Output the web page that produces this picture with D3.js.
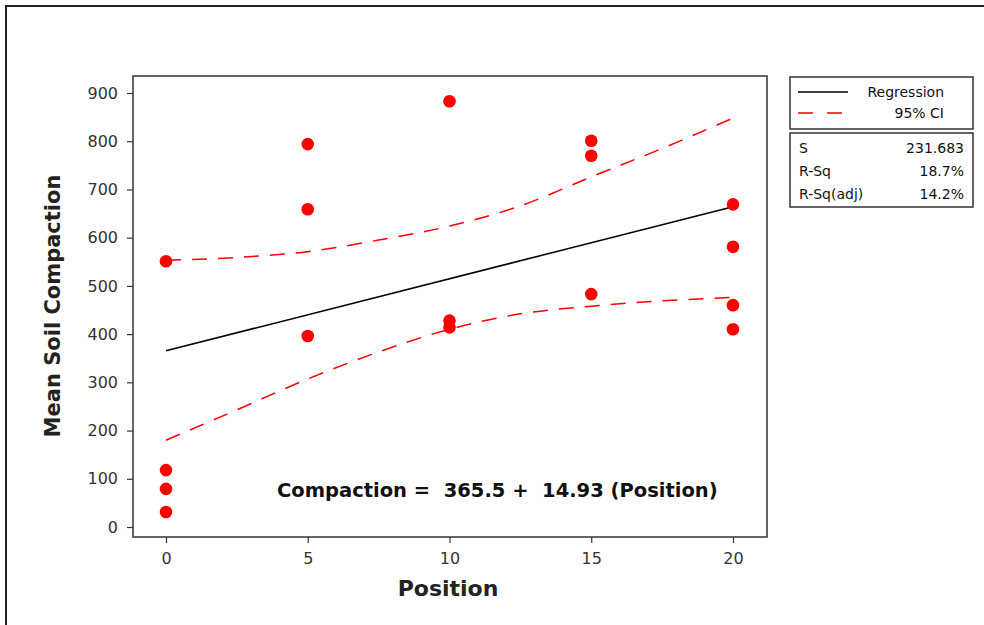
<!DOCTYPE html>
<html>
<head>
<meta charset="utf-8">
<script src="https://d3js.org/d3.v7.min.js"></script>
<style>
  body { margin: 0; background: #fff; }
  text { font-family: "DejaVu Sans", Verdana, sans-serif; }
  .tick text { font-size: 16px; fill: #333; }
</style>
</head>
<body>
<svg id="chart" width="984" height="625"></svg>
<script>
// observed points (position, mean soil compaction)
var posX  = [0, 0, 0, 0, 5, 5, 5, 10, 10, 10, 15, 15, 15, 20, 20, 20, 20];
var compY = [551, 118, 79, 31, 794, 659, 396, 883, 428, 414, 801, 770, 483, 669, 581, 460, 410];

// fitted line: Compaction = 365.5 + 14.93 (Position)
var fitX = [0, 20];
var fitY = [365.5, 664.1];

// 95% CI bands
var ciX     = [0, 2.5, 5, 7.5, 10, 12.5, 15, 17.5, 20];
var ciUpper = [553, 559, 571, 595, 624, 666, 726, 785, 848];
var ciLower = [180, 243, 307, 363, 410, 442, 458, 469, 476];

var xTicks = [0, 5, 10, 15, 20];
var yTicks = [0, 100, 200, 300, 400, 500, 600, 700, 800, 900];

var statNames  = ["S", "R-Sq", "R-Sq(adj)"];
var statValues = ["231.683", "18.7%", "14.2%"];

var svg = d3.select("#chart");

// outer frame
svg.append("rect").attr("x", 6).attr("y", 6).attr("width", 1000).attr("height", 640)
  .attr("fill", "#fff").attr("stroke", "#222").attr("stroke-width", 2);

var plot = {left: 133, top: 76, right: 767, bottom: 537};

var x = d3.scaleLinear().domain([0, 20]).range([166, 733]);
var y = d3.scaleLinear().domain([0, 900]).range([527, 93]);

// plot box
svg.append("rect")
  .attr("x", plot.left).attr("y", plot.top)
  .attr("width", plot.right - plot.left).attr("height", plot.bottom - plot.top)
  .attr("fill", "#fff").attr("stroke", "#333").attr("stroke-width", 1.5);

// axes
var yAxis = svg.append("g").attr("transform", "translate(" + plot.left + ",0)")
  .call(d3.axisLeft(y).tickValues(yTicks).tickSize(6).tickPadding(9));
var xAxis = svg.append("g").attr("transform", "translate(0," + plot.bottom + ")")
  .call(d3.axisBottom(x).tickValues(xTicks).tickSize(6).tickPadding(10));
[yAxis, xAxis].forEach(function(a) {
  a.select(".domain").remove();
  a.selectAll(".tick line").attr("stroke", "#333").attr("stroke-width", 1.2);
  a.selectAll(".tick text").attr("font-family", null).attr("font-size", null);
});

// axis titles
svg.append("text")
  .attr("transform", "translate(60,306) rotate(-90)")
  .attr("text-anchor", "middle")
  .style("font-size", "21px").style("font-weight", "bold").style("fill", "#222")
  .text("Mean Soil Compaction");
svg.append("text")
  .attr("x", 448).attr("y", 596)
  .attr("text-anchor", "middle")
  .style("font-size", "22px").style("font-weight", "bold").style("fill", "#222")
  .text("Position");

// CI curves
var line = d3.line().x(function(d) { return x(d[0]); }).y(function(d) { return y(d[1]); })
  .curve(d3.curveMonotoneX);
[ciUpper, ciLower].forEach(function(band) {
  svg.append("path")
    .datum(ciX.map(function(v, i) { return [v, band[i]]; }))
    .attr("d", line)
    .attr("fill", "none").attr("stroke", "#ff0000").attr("stroke-width", 1.5)
    .attr("stroke-dasharray", "15,11");
});

// regression line
svg.append("path")
  .datum(fitX.map(function(v, i) { return [v, fitY[i]]; }))
  .attr("d", d3.line().x(function(d) { return x(d[0]); }).y(function(d) { return y(d[1]); }))
  .attr("fill", "none").attr("stroke", "#000").attr("stroke-width", 1.5);

// points
svg.append("g").selectAll("path")
  .data(posX.map(function(v, i) { return [v, compY[i]]; }))
  .enter().append("path")
    .attr("transform", function(d) { return "translate(" + x(d[0]) + "," + y(d[1]) + ")"; })
    .attr("d", d3.symbol().type(d3.symbolCircle).size(125))
    .attr("fill", "#ff0000");

// equation
svg.append("text")
  .attr("x", 277).attr("y", 497)
  .style("font-size", "19.5px").style("font-weight", "bold").style("fill", "#111")
  .attr("xml:space", "preserve")
  .text("Compaction =  365.5 +  14.93 (Position)");

// legend box
var lg = svg.append("g");
lg.append("rect").attr("x", 790).attr("y", 77).attr("width", 183).attr("height", 52)
  .attr("fill", "#fff").attr("stroke", "#333").attr("stroke-width", 1.5);
lg.append("line").attr("x1", 798).attr("x2", 848).attr("y1", 92).attr("y2", 92)
  .attr("stroke", "#000").attr("stroke-width", 1.3);
lg.append("line").attr("x1", 798).attr("x2", 848).attr("y1", 113).attr("y2", 113)
  .attr("stroke", "#ff0000").attr("stroke-width", 1.3).attr("stroke-dasharray", "15,14");
lg.append("text").attr("x", 944).attr("y", 97).attr("text-anchor", "end")
  .style("font-size", "14px").style("fill", "#111").text("Regression");
lg.append("text").attr("x", 944).attr("y", 118).attr("text-anchor", "end")
  .style("font-size", "14px").style("fill", "#111").text("95% CI");

// stats box
var st = svg.append("g");
st.append("rect").attr("x", 790).attr("y", 133).attr("width", 183).attr("height", 74)
  .attr("fill", "#fff").attr("stroke", "#333").attr("stroke-width", 1.5);
statNames.forEach(function(n, i) {
  st.append("text").attr("x", 799).attr("y", 153 + i * 23)
    .style("font-size", "14px").style("fill", "#111").text(n);
  st.append("text").attr("x", 964).attr("y", 153 + i * 23).attr("text-anchor", "end")
    .style("font-size", "14px").style("fill", "#111").text(statValues[i]);
});
</script>
</body>
</html>
